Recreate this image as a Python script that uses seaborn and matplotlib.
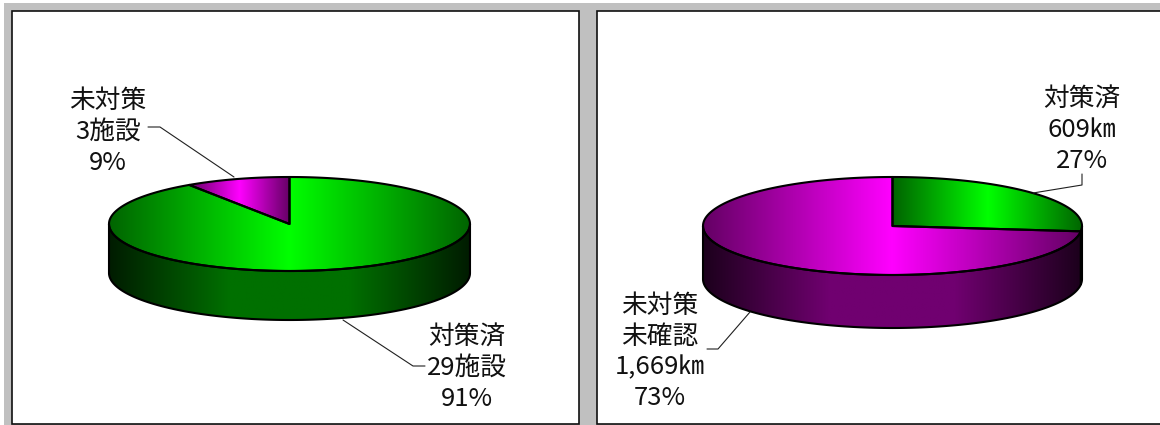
import numpy as np
import seaborn as sns
import matplotlib
matplotlib.use("Agg")
import matplotlib.pyplot as plt
from matplotlib.patches import Polygon, Rectangle

sns.set_theme(style="white")
plt.rcParams['font.family'] = ['Noto Sans CJK JP', 'DejaVu Sans']

# values, clockwise from 12 o'clock: done first, then not done
facility_counts = [29, 3]
length_km = [609, 1669]

facility_labels = ["対策済\n29施設\n91%", "未対策\n3施設\n9%"]
length_labels = ["対策済\n609㎞\n27%", "未対策\n未確認\n1,669㎞\n73%"]

top_green = sns.blend_palette(["#006400", "#00ff00", "#006400"], as_cmap=True)
side_green = sns.blend_palette(["#001c00", "#007000", "#007000", "#001c00"], as_cmap=True)
top_magenta = sns.blend_palette(["#640064", "#ff00ff", "#640064"], as_cmap=True)
side_magenta = sns.blend_palette(["#1c001c", "#700070", "#700070", "#1c001c"], as_cmap=True)
top_maps = [top_green, top_magenta]
side_maps = [side_green, side_magenta]


def fill_gradient(ax, pts, cmap):
    # horizontal gradient across the bounding box of one slice part
    grad = np.linspace(0, 1, 256).reshape(1, -1)
    x0, x1 = pts[:, 0].min(), pts[:, 0].max()
    y0, y1 = pts[:, 1].min(), pts[:, 1].max()
    im = ax.imshow(grad, cmap=cmap, extent=[x0, x1, y1, y0], aspect="auto", zorder=2)
    poly = Polygon(pts, closed=True, fc="none", ec="black", lw=1.5, zorder=3, joinstyle="round")
    ax.add_patch(poly)
    im.set_clip_path(poly)


def pie3d(ax, values, cx, cy, rx, ry, depth):
    shares = np.array(values) / sum(values)
    ends = 90 - 360 * np.cumsum(shares)
    starts = np.r_[90, ends[:-1]]

    # side wall first, only the front half of the rim is visible
    for a0, a1, cmap in zip(starts, ends, side_maps):
        lo = max(a1, -180)
        hi = min(a0, 0)
        if hi <= lo:
            continue
        t = np.radians(np.linspace(hi, lo, 200))
        xs = cx + rx * np.cos(t)
        ys = cy - ry * np.sin(t)
        pts = np.r_[np.c_[xs, ys], np.c_[xs, ys + depth][::-1]]
        fill_gradient(ax, pts, cmap)

    # top face
    for a0, a1, cmap in zip(starts, ends, top_maps):
        t = np.radians(np.linspace(a0, a1, 300))
        arc = np.c_[cx + rx * np.cos(t), cy - ry * np.sin(t)]
        pts = np.r_[[[cx, cy]], arc]
        fill_gradient(ax, pts, cmap)


fig = plt.figure(figsize=(11.6, 4.25), dpi=100, facecolor="white")
ax = fig.add_axes([0, 0, 1, 1])
ax.set_xlim(0, 1160)
ax.set_ylim(425, 0)
ax.axis("off")

# grey backing and the two panels
ax.add_patch(Rectangle((4, 3), 1160, 430, fc="#c0c0c0", ec="none", zorder=0))
ax.add_patch(Rectangle((12, 11), 567, 413, fc="white", ec="#101010", lw=1.2, zorder=1))
ax.add_patch(Rectangle((597, 11), 580, 413, fc="white", ec="#101010", lw=1.2, zorder=1))

pie3d(ax, facility_counts, 289.5, 224, 180.5, 47, 49)
pie3d(ax, length_km, 892.5, 226, 189.5, 49, 53)

# leader lines
leaders = [
    ([148, 160, 234], [127, 127, 177]),
    ([343, 413, 425], [320, 366, 366]),
    ([1033, 1082, 1082], [193, 185, 174]),
    ([750, 718, 707], [312, 349, 349]),
]
for lx, ly in leaders:
    ax.plot(lx, ly, color="#202020", lw=0.8, zorder=4)

label_pos = [(467, 368), (108, 132), (1082, 130), (660, 352)]
for txt, (tx, ty) in zip(facility_labels + length_labels, label_pos):
    ax.text(tx, ty, txt, ha="center", va="center", fontsize=18.5, color="#111111",
            linespacing=1.24, zorder=5)

ax.set_xlim(0, 1160)
ax.set_ylim(425, 0)
fig.savefig("out.png", dpi=100, facecolor=fig.get_facecolor())
